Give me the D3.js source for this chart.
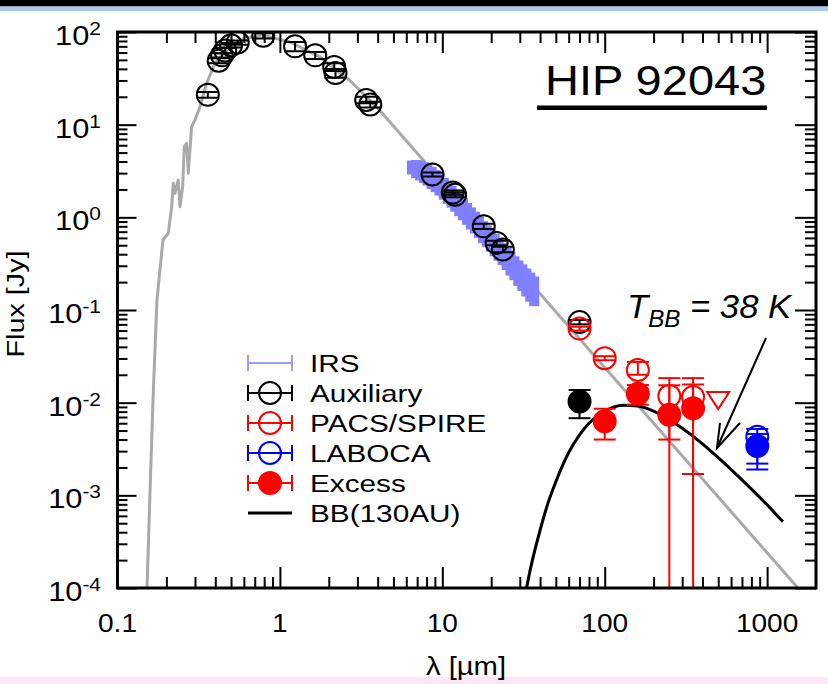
<!DOCTYPE html>
<html>
<head>
<meta charset="utf-8">
<script src="https://cdn.jsdelivr.net/npm/d3@7"></script>
<style>
  body { margin: 0; background: #fff; }
  svg { display: block; }
  text { font-family: "Liberation Sans", Arial, Helvetica, sans-serif; fill: #000; }
</style>
</head>
<body>
<svg id="chart" width="828" height="684"></svg>
<script>
// ---- Spectral energy distribution of HIP 92043 ----

// Stellar photosphere model (wavelength in micron, flux in Jy)
const photLam  = [0.152, 0.158, 0.1654, 0.175, 0.1905, 0.2054, 0.2156, 0.2205, 0.2259, 0.2366, 0.2425, 0.2519, 0.2577, 0.2666, 0.2727, 0.2861, 0.2999, 0.322, 0.354, 0.398, 0.49, 0.6, 0.776, 1.15, 1.76, 2.7, 4.1, 10, 20, 50, 100, 200, 500, 1000, 2000];
const photFlux = [1e-4, 8.9e-4, 0.0107, 0.129, 0.57, 0.673, 1.30, 2.33, 1.82, 2.53, 1.30, 2.14, 5.79, 6.30, 2.99, 9.51, 11.2, 15.6, 28.0, 45.9, 69, 85, 93, 78, 54, 30, 14.4, 2.4, 0.60, 0.096, 0.024, 0.006, 9.6e-4, 2.4e-4, 6.0e-5];

// Spitzer IRS spectrum
const irsLam  = [6.5, 6.9, 7.3, 7.7, 8.1, 8.6, 9.1, 9.6, 10.2, 10.8, 11.4, 12.0, 12.7, 13.4, 14.2, 15.0, 15.9, 16.8, 17.8, 18.8, 19.9, 21.0, 22.2, 23.5, 24.9, 26.3, 27.8, 29.4, 31.1, 32.9, 34.8, 36.8];
const irsFlux = [3.5, 3.4, 3.3, 3.15, 2.98, 2.76, 2.55, 2.35, 2.11, 1.90, 1.73, 1.57, 1.40, 1.27, 1.13, 1.01, 0.91, 0.81, 0.72, 0.65, 0.58, 0.52, 0.465, 0.415, 0.37, 0.33, 0.295, 0.262, 0.236, 0.21, 0.188, 0.17];
const irsErr  = [0.6, 0.75, 0.8, 0.8, 0.78, 0.74, 0.68, 0.63, 0.56, 0.5, 0.46, 0.42, 0.37, 0.34, 0.30, 0.27, 0.24, 0.21, 0.19, 0.17, 0.155, 0.14, 0.125, 0.11, 0.1, 0.095, 0.085, 0.08, 0.075, 0.07, 0.065, 0.06];

// Auxiliary photometry
const auxLam   = [0.36, 0.42, 0.44, 0.46, 0.50, 0.55, 0.79, 1.24, 1.65, 2.16, 2.2, 3.4, 3.6, 8.7, 11.6, 12.0, 18.0, 21.6, 23.6, 70];
const auxFlux  = [21, 49, 56, 63, 72, 77, 91, 70, 56, 42, 36, 18.5, 16.5, 2.9, 1.85, 1.75, 0.80, 0.53, 0.45, 0.074];
const auxErr   = [1.5, 3, 3, 4, 4, 4, 6, 8, 5, 4, 4, 1.5, 1.2, 0.15, 0.1, 0.1, 0.05, 0.03, 0.03, 0.004];

// Herschel PACS / SPIRE photometry
const pacsLam   = [70, 100, 160, 250, 350];
const pacsFlux  = [0.063, 0.0302, 0.0225, 0.0118, 0.0115];
const pacsErrHi = [0.003, 0.0015, 0.005, 0.0066, 0.0069];
const pacsErrLo = [0.003, 0.0015, 0.0025, 0.0118, 0.0115];

// PACS/SPIRE upper limit
const limLam  = [500];
const limFlux = [0.0112];

// APEX LABOCA photometry
const labLam   = [870];
const labFlux  = [0.0043];
const labErrHi = [0.0009];
const labErrLo = [0.0021];

// Excess above the photosphere
const excLam   = [100, 160, 250, 350];
const excFlux  = [0.0063, 0.0125, 0.0074, 0.0087];
const excErrHi = [0.0023, 0.003, 0.008, 0.007];
const excErrLo = [0.0023, 0.003, 0.0034, 0.007];

const exc70Lam = [70], exc70Flux = [0.0103], exc70ErrHi = [0.0034], exc70ErrLo = [0.0035];
const excLabLam = [870], excLabFlux = [0.0034], excLabErrHi = [0.0012], excLabErrLo = [0.0015];

// Blackbody (T = 38 K) fitted to the excess
const bbLam  = [33, 35, 40, 45, 50, 60, 70, 80, 100, 130, 160, 200, 300, 400, 500, 700, 1000, 1250];
const bbFlux = [1.0e-4, 1.65e-4, 4.2e-4, 8.5e-4, 1.4e-3, 2.9e-3, 4.5e-3, 6.0e-3, 8.1e-3, 9.4e-3, 9.2e-3, 8.1e-3, 5.3e-3, 3.6e-3, 2.55e-3, 1.47e-3, 7.9e-4, 5.2e-4];

// Axes
const xMajor = [0.1, 1, 10, 100, 1000];
const xMajorLabels = ["0.1", "1", "10", "100", "1000"];
const yMajor = [1e2, 1e1, 1e0, 1e-1, 1e-2, 1e-3, 1e-4];
const yExponents = ["2", "1", "0", "-1", "-2", "-3", "-4"];

const legendItems = ["IRS", "Auxiliary", "PACS/SPIRE", "LABOCA", "Excess", "BB(130AU)"];

// ---------------------------------------------------------------
const svg = d3.select("#chart");
const W = 828, H = 684;
const L = 117.5, R = 816, T = 32, B = 588;

// page bands
svg.append("rect").attr("x", 0).attr("y", 0).attr("width", W).attr("height", H).attr("fill", "#fff");
svg.append("rect").attr("x", 0).attr("y", 0).attr("width", W).attr("height", 6.5).attr("fill", "#000");
svg.append("rect").attr("x", 0).attr("y", 6.5).attr("width", W).attr("height", 4.5).attr("fill", "#a9c9f0");
svg.append("rect").attr("x", 0).attr("y", 677).attr("width", W).attr("height", 7).attr("fill", "#fde6f7");

const x = d3.scaleLog().domain([0.1, 2000]).range([L, R]);
const y = d3.scaleLog().domain([1e-4, 100]).range([B, T]);

svg.append("defs").append("clipPath").attr("id", "plotClip")
  .append("rect").attr("x", L).attr("y", T).attr("width", R - L).attr("height", B - T);

const plot = svg.append("g").attr("clip-path", "url(#plotClip)");

// photosphere
const pairs = (a, b) => a.map((v, i) => [v, b[i]]);
const lineLog = d3.line().x(d => x(d[0])).y(d => y(d[1]));
plot.append("path").datum(pairs(photLam, photFlux))
  .attr("d", lineLog).attr("fill", "none")
  .attr("stroke", "#a9a9a9").attr("stroke-width", 3).attr("stroke-linejoin", "round");

// blackbody
plot.append("path").datum(pairs(bbLam, bbFlux))
  .attr("d", d3.line().x(d => x(d[0])).y(d => y(d[1])).curve(d3.curveMonotoneX))
  .attr("fill", "none").attr("stroke", "#000").attr("stroke-width", 3);

// IRS spectrum as dense error bars
const irsCol = "#7f7fff";
irsLam.forEach((l, i) => {
  const top = y(irsFlux[i] + irsErr[i]);
  const bot = y(irsFlux[i] - irsErr[i]);
  plot.append("rect").attr("x", x(l) - 5).attr("width", 10)
    .attr("y", top).attr("height", bot - top).attr("fill", irsCol);
});

// error-bar points
function yVal(v) { return v > 0 ? y(v) : B + 20; }
function points(lam, flux, hi, lo, color, filled) {
  lam.forEach((l, i) => {
    const cx = x(l), cy = y(flux[i]);
    const yt = yVal(flux[i] + hi[i]);
    const yb = yVal(flux[i] - lo[i]);
    const g = plot.append("g").attr("stroke", color).attr("stroke-width", 2);
    g.append("line").attr("x1", cx).attr("x2", cx).attr("y1", yt).attr("y2", yb);
    g.append("line").attr("x1", cx - 11).attr("x2", cx + 11).attr("y1", yt).attr("y2", yt);
    if (yb < B) g.append("line").attr("x1", cx - 11).attr("x2", cx + 11).attr("y1", yb).attr("y2", yb);
    g.append("circle").attr("cx", cx).attr("cy", cy).attr("r", 11)
      .attr("fill", filled ? color : "none");
  });
}

points(auxLam, auxFlux, auxErr, auxErr, "#000", false);
points(pacsLam, pacsFlux, pacsErrHi, pacsErrLo, "#ff0000", false);
points(labLam, labFlux, labErrHi, labErrLo, "#0000ff", false);
points(exc70Lam, exc70Flux, exc70ErrHi, exc70ErrLo, "#000", true);
points(excLam, excFlux, excErrHi, excErrLo, "#ff0000", true);
points(excLabLam, excLabFlux, excLabErrHi, excLabErrLo, "#0000ff", true);

// upper limit (open down-pointing triangle)
limLam.forEach((l, i) => {
  const cx = x(l), cy = y(limFlux[i]);
  plot.append("path")
    .attr("d", `M${cx - 11},${cy - 6}L${cx + 11},${cy - 6}L${cx},${cy + 11}Z`)
    .attr("fill", "none").attr("stroke", "#ff0000").attr("stroke-width", 2);
});

// ---- axes: inward ticks on all four sides ----
const xMinor = [];
for (let e = -1; e <= 3; e++) for (let m = 2; m <= 9; m++) {
  const v = m * Math.pow(10, e);
  if (v < 2000) xMinor.push(v);
}
const yMinor = [];
for (let e = -4; e <= 1; e++) for (let m = 2; m <= 9; m++) yMinor.push(m * Math.pow(10, e));

function axis(gen, vals, size, tr) {
  const g = svg.append("g").attr("transform", tr)
    .call(gen.tickValues(vals).tickSize(size).tickFormat(""));
  g.select(".domain").remove();
  g.selectAll(".tick line").attr("stroke", "#000").attr("stroke-width", 2);
}
axis(d3.axisBottom(x), xMajor, -21, `translate(0,${B})`);
axis(d3.axisBottom(x), xMinor, -11, `translate(0,${B})`);
axis(d3.axisTop(x), xMajor, -21, `translate(0,${T})`);
axis(d3.axisTop(x), xMinor, -11, `translate(0,${T})`);
axis(d3.axisLeft(y), yMajor, -19, `translate(${L},0)`);
axis(d3.axisLeft(y), yMinor, -10, `translate(${L},0)`);
axis(d3.axisRight(y), yMajor, -21, `translate(${R},0)`);
axis(d3.axisRight(y), yMinor, -11, `translate(${R},0)`);

svg.append("rect").attr("x", L).attr("y", T).attr("width", R - L).attr("height", B - T)
  .attr("fill", "none").attr("stroke", "#000").attr("stroke-width", 3);

// tick labels
xMajor.forEach((v, i) => {
  svg.append("text")
    .attr("transform", `translate(${x(v)},632) scale(1.08,1)`)
    .attr("text-anchor", "middle").attr("font-size", 26)
    .text(xMajorLabels[i]);
});
yMajor.forEach((v, i) => {
  const t = svg.append("text")
    .attr("transform", `translate(101,${y(v) + 13}) scale(1.1,1)`)
    .attr("text-anchor", "end");
  t.append("tspan").attr("font-size", 28).text("10");
  t.append("tspan").attr("font-size", 19).attr("dy", -10).text(yExponents[i]);
});

// axis titles
svg.append("text")
  .attr("transform", `translate(466,675) scale(1.17,1)`)
  .attr("text-anchor", "middle").attr("font-size", 25)
  .text("λ [µm]");
svg.append("text")
  .attr("transform", `translate(24,304) rotate(-90) scale(1.2,1)`)
  .attr("text-anchor", "middle").attr("font-size", 24)
  .text("Flux [Jy]");

// star name
svg.append("text")
  .attr("transform", `translate(545,95) scale(1.12,1)`)
  .attr("font-size", 42).text("HIP 92043");
svg.append("rect").attr("x", 537).attr("y", 105.5).attr("width", 230).attr("height", 4.5).attr("fill", "#000");

// blackbody temperature annotation with arrow
const ann = svg.append("text")
  .attr("transform", `translate(627,318) scale(1.05,1)`)
  .attr("font-style", "italic").attr("font-size", 33);
ann.append("tspan").text("T");
ann.append("tspan").attr("font-size", 23).attr("dy", 9).text("BB");
ann.append("tspan").attr("dy", -9).text(" = 38 K");

const arrow = svg.append("g").attr("stroke", "#000").attr("stroke-width", 2).attr("fill", "none");
arrow.append("line").attr("x1", 766).attr("y1", 338).attr("x2", 717).attr("y2", 448);
arrow.append("path").attr("d", "M720,423L717,448L740,423");

// legend
const lx0 = 248, lx1 = 292, lcx = 270, ltx = 310;
const lg = svg.append("g");
legendItems.forEach((name, i) => {
  const base = 372 + i * 30;
  const cy = base - 9;
  const row = lg.append("g");
  if (name === "BB(130AU)") {
    row.append("line").attr("x1", lx0).attr("x2", lx1).attr("y1", cy).attr("y2", cy)
      .attr("stroke", "#000").attr("stroke-width", 3);
  } else {
    const col = ["#9a9aff", "#000", "#ff0000", "#0000ff", "#ff0000"][i];
    const s = row.append("g").attr("stroke", col).attr("stroke-width", 2);
    s.append("line").attr("x1", lx0).attr("x2", lx1).attr("y1", cy).attr("y2", cy);
    s.append("line").attr("x1", lx0).attr("x2", lx0).attr("y1", cy - 8).attr("y2", cy + 8);
    s.append("line").attr("x1", lx1).attr("x2", lx1).attr("y1", cy - 8).attr("y2", cy + 8);
    if (i > 0) s.append("circle").attr("cx", lcx).attr("cy", cy).attr("r", 11)
      .attr("fill", name === "Excess" ? col : "none");
  }
  row.append("text")
    .attr("transform", `translate(${ltx},${base}) scale(1.24,1)`)
    .attr("font-size", 24).text(name);
});
</script>
</body>
</html>
